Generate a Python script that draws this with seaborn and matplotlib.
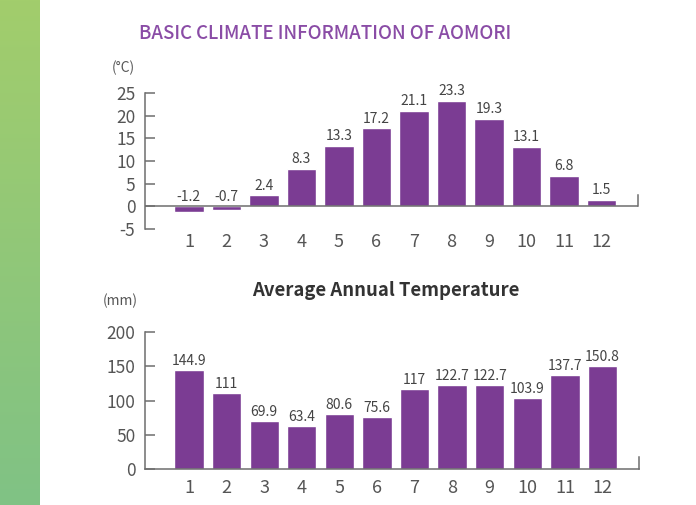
import numpy as np
import pandas as pd
import seaborn as sns
import matplotlib.pyplot as plt
from matplotlib.colors import LinearSegmentedColormap

months = [str(m) for m in range(1, 13)]
temperature = [-1.2, -0.7, 2.4, 8.3, 13.3, 17.2, 21.1, 23.3, 19.3, 13.1, 6.8, 1.5]
precipitation = [144.9, 111, 69.9, 63.4, 80.6, 75.6, 117, 122.7, 122.7, 103.9, 137.7, 150.8]

bar_color = "#7b3c93"
axis_color = "#6e6e6e"
text_color = "#555555"

sns.set_theme(style="white")
plt.rcParams['font.family'] = ['Noto Sans CJK JP', 'Noto Sans', 'DejaVu Sans']
plt.rcParams['axes.unicode_minus'] = False

fig = plt.figure(figsize=(6.96, 5.05), dpi=100)

# green strip on the left
strip = fig.add_axes([0, 0, 40 / 696, 1])
grad = np.linspace(0, 1, 256).reshape(-1, 1)
cmap = LinearSegmentedColormap.from_list("g", ["#a2cd6c", "#80c285"])
strip.imshow(grad, aspect="auto", cmap=cmap, extent=[0, 1, 0, 1], origin="upper")
strip.axis("off")

fig.text(139 / 696, 1 - 33 / 505, "BASIC CLIMATE INFORMATION OF AOMORI",
         color="#8a4ca6", fontsize=13.4, fontweight="medium", va="center", ha="left")
fig.text(386 / 696, 1 - 291 / 505, "Average Annual Temperature",
         color="#333333", fontsize=13.3, fontweight="bold", va="center", ha="center")


def style_axis(ax, ylim, yticks, unit, unit_x, unit_y, right_top, xpad):
    ax.set_xlim(-1.17, 11.97)
    ax.set_ylim(*ylim)
    ax.set_yticks(yticks)
    ax.spines["top"].set_visible(False)
    for s in ["left", "right"]:
        ax.spines[s].set_color(axis_color)
        ax.spines[s].set_linewidth(1.1)
    ax.spines["right"].set_bounds(0, right_top)
    ax.tick_params(axis="y", left=True, direction="in", length=7, width=1.1,
                   color=axis_color, labelsize=12.5, labelcolor=text_color, pad=7)
    ax.tick_params(axis="x", bottom=False, length=0, labelsize=13,
                   labelcolor=text_color, pad=xpad)
    ax.set_xlabel("")
    ax.set_ylabel("")
    fig.text(unit_x / 696, 1 - unit_y / 505, unit, color=text_color, fontsize=10,
             va="center", ha="left")


def add_labels(ax, values, offset):
    for i, v in enumerate(values):
        ax.text(i, max(v, 0) + offset, f"{v:g}", ha="center", va="bottom",
                fontsize=10, color="#444444")


# temperature
ax1 = fig.add_axes([145 / 696, 1 - 229 / 505, (638 - 145) / 696, (229 - 93) / 505])
df_t = pd.DataFrame({"month": months, "value": temperature})
sns.barplot(data=df_t, x="month", y="value", color=bar_color, width=0.78,
            saturation=1, ax=ax1)
ax1.spines["bottom"].set_visible(False)
ax1.axhline(0, color=axis_color, lw=1.1, zorder=3)
style_axis(ax1, (-5, 25), [-5, 0, 5, 10, 15, 20, 25], "(°C)", 112, 68, 2.6, 3)
add_labels(ax1, temperature, 0.6)

# precipitation
ax2 = fig.add_axes([145 / 696, 1 - 469 / 505, (639 - 145) / 696, (469 - 332) / 505])
df_p = pd.DataFrame({"month": months, "value": precipitation})
sns.barplot(data=df_p, x="month", y="value", color=bar_color, width=0.78,
            saturation=1, ax=ax2)
ax2.spines["bottom"].set_color(axis_color)
ax2.spines["bottom"].set_linewidth(1.1)
style_axis(ax2, (0, 200), [0, 50, 100, 150, 200], "(mm)", 103, 301, 17, 7)
add_labels(ax2, precipitation, 3)

fig.savefig("out.png", dpi=100)
